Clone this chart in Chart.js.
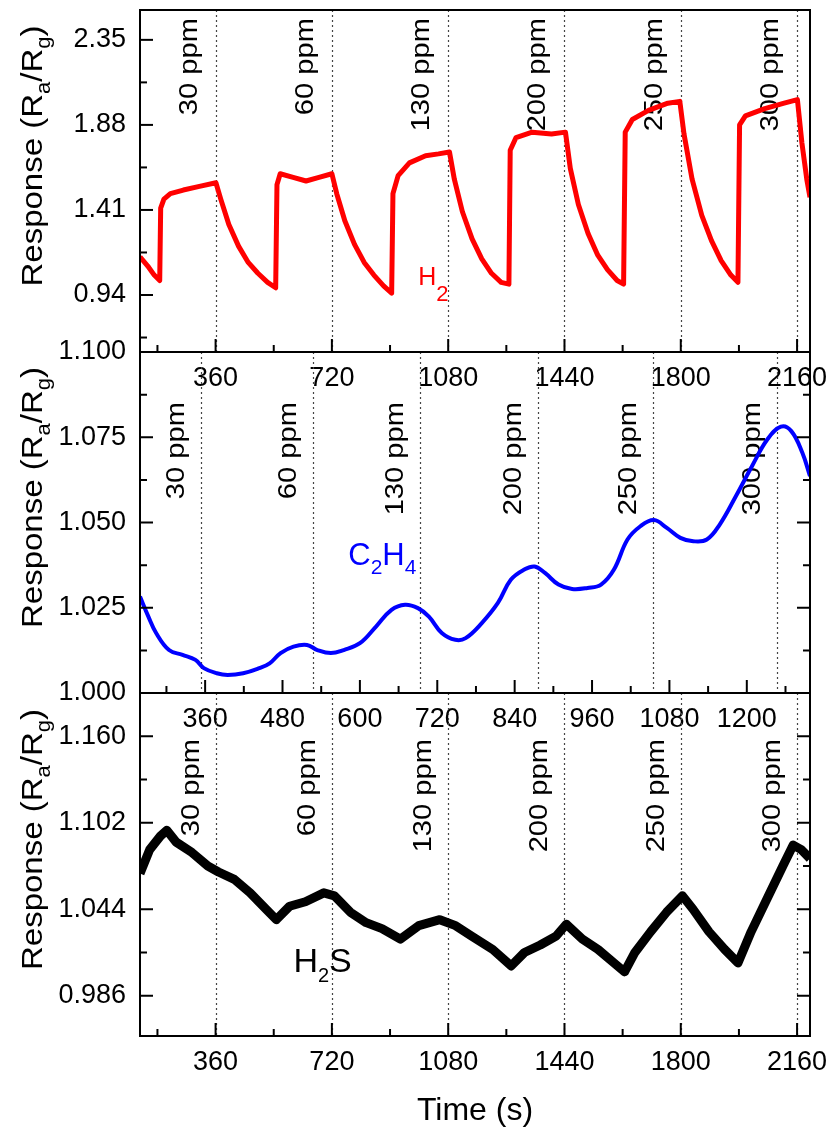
<!DOCTYPE html>
<html>
<head>
<meta charset="utf-8">
<script src="https://cdn.jsdelivr.net/npm/chart.js@4.4.0/dist/chart.umd.min.js"></script>
<style>
  html, body { margin: 0; padding: 0; background: #fff; }
  #wrap { position: relative; width: 829px; height: 1131px; }
  #wrap canvas { position: absolute; left: 0; top: 0; }
</style>
</head>
<body>
<div id="wrap">
  <canvas id="c1" width="829" height="1131"></canvas>
  <canvas id="c2" width="829" height="1131"></canvas>
  <canvas id="c3" width="829" height="1131"></canvas>
</div>
<script>
// concentration steps, same for all three gases
const ppmLabels = ['30 ppm', '60 ppm', '130 ppm', '200 ppm', '250 ppm', '300 ppm'];

// H2 (top panel)
const h2Time = [126, 150, 170, 187, 190, 200, 220, 260, 310, 361,
                376, 401, 431, 461, 491, 521, 546, 550, 560, 600,
                640, 680, 720, 735, 760, 790, 820, 850, 880, 905,
                909, 925, 960, 1010, 1050, 1084, 1099, 1124, 1154, 1184,
                1214, 1244, 1268, 1272, 1290, 1340, 1400, 1443, 1458, 1483,
                1513, 1543, 1573, 1603, 1623, 1628, 1650, 1700, 1760, 1797,
                1810, 1835, 1865, 1895, 1925, 1955, 1977, 1982, 2000, 2060,
                2120, 2161, 2175, 2190, 2200];
const h2Resp = [1.15, 1.10, 1.05, 1.02, 1.42, 1.47, 1.50, 1.52, 1.54, 1.56,
                1.47, 1.33, 1.21, 1.12, 1.06, 1.01, 0.98, 1.55, 1.61, 1.59,
                1.57, 1.59, 1.61, 1.50, 1.35, 1.22, 1.12, 1.05, 0.99, 0.95,
                1.50, 1.60, 1.67, 1.71, 1.72, 1.73, 1.58, 1.40, 1.25, 1.14,
                1.06, 1.01, 1.00, 1.74, 1.81, 1.84, 1.83, 1.84, 1.64, 1.44,
                1.28, 1.16, 1.08, 1.02, 1.00, 1.84, 1.91, 1.96, 2.00, 2.01,
                1.83, 1.58, 1.38, 1.24, 1.13, 1.05, 1.01, 1.88, 1.93, 1.97,
                2.00, 2.02, 1.78, 1.58, 1.48];
const h2Marks = [360, 720, 1080, 1440, 1800, 2160];
const h2YTicks = ['0.94', '1.41', '1.88', '2.35'];

// C2H4 (middle panel)
const c2h4Time = [259, 272, 284, 304, 325, 345, 358, 378, 395, 419,
                  444, 460, 477, 497, 518, 534, 555, 575, 600, 625,
                  649, 670, 690, 707, 727, 748, 764, 789, 814, 834,
                  855, 871, 887, 908, 929, 953, 974, 994, 1015, 1035,
                  1056, 1076, 1097, 1117, 1138, 1158, 1183, 1208, 1232, 1253,
                  1269, 1286, 1298];
const c2h4Resp = [1.0283, 1.0224, 1.0176, 1.0126, 1.0112, 1.0097, 1.0073, 1.0058, 1.0053, 1.0058,
                  1.0073, 1.0087, 1.0117, 1.0136, 1.0141, 1.0126, 1.0117, 1.0126, 1.0146, 1.0195,
                  1.0244, 1.0259, 1.0249, 1.0224, 1.0176, 1.0156, 1.0161, 1.0205, 1.0264, 1.0332,
                  1.0362, 1.0371, 1.0352, 1.0318, 1.0305, 1.0308, 1.0318, 1.0362, 1.0450, 1.0489,
                  1.0507, 1.0484, 1.0455, 1.0445, 1.0450, 1.0494, 1.0577, 1.0665, 1.0744, 1.0781,
                  1.0768, 1.0705, 1.0636];
const c2h4Marks = [354, 527, 693, 876, 1054, 1247];
const c2h4XTicks = ['360', '480', '600', '720', '840', '960', '1080', '1200'];
const c2h4YTicks = ['1.000', '1.025', '1.050', '1.075', '1.100'];

// H2S (bottom panel)
const h2sTime = [126, 156, 189, 209, 238, 287, 336, 369, 418, 467,
                 516, 548, 589, 638, 695, 728, 777, 826, 875, 932,
                 989, 1054, 1103, 1152, 1218, 1275, 1316, 1365, 1414, 1446,
                 1495, 1544, 1593, 1626, 1658, 1707, 1756, 1805, 1838, 1887,
                 1936, 1977, 2018, 2067, 2116, 2148, 2173, 2200];
const h2sResp = [1.068, 1.084, 1.093, 1.097, 1.089, 1.082, 1.073, 1.069, 1.064, 1.055,
                 1.044, 1.037, 1.046, 1.049, 1.055, 1.053, 1.042, 1.035, 1.031, 1.024,
                 1.033, 1.037, 1.033, 1.026, 1.017, 1.006, 1.015, 1.020, 1.026, 1.034,
                 1.024, 1.017, 1.008, 1.002, 1.015, 1.029, 1.042, 1.053, 1.044, 1.029,
                 1.017, 1.008, 1.029, 1.051, 1.073, 1.087, 1.084, 1.078];
const h2sMarks = [360, 720, 1080, 1440, 1800, 2160];
const h2sYTicks = ['0.986', '1.044', '1.102', '1.160'];

// time ticks shared by top and bottom panels
const timeTicks = ['360', '720', '1080', '1440', '1800', '2160'];

const FONT = "'Liberation Sans', Arial, sans-serif";

function drawRich(ctx, parts, x, y, o) {
  ctx.save();
  ctx.translate(x, y);
  if (o.rot) ctx.rotate(o.rot);
  ctx.scale(o.stretch || 1, 1);
  ctx.fillStyle = o.color || '#000';
  ctx.textBaseline = 'alphabetic';
  ctx.textAlign = 'left';
  const fonts = parts.map(p => (p.sub ? o.subSize : o.size) + 'px ' + FONT);
  let w = 0;
  const widths = parts.map((p, i) => {
    ctx.font = fonts[i];
    const m = ctx.measureText(p.t).width;
    w += m;
    return m;
  });
  let cx = o.align === 'center' ? -w / 2 : (o.align === 'right' ? -w : 0);
  parts.forEach((p, i) => {
    ctx.font = fonts[i];
    ctx.fillText(p.t, cx, p.sub ? o.subDrop : 0);
    cx += widths[i];
  });
  ctx.restore();
}

function minorOf(vals, min, max) {
  const step = vals[1] - vals[0];
  const out = [];
  for (let v = vals[0] - step / 2; v <= max + 1e-9; v += step) {
    if (v >= min - 1e-9) out.push(v);
  }
  return out;
}

const yTitle = [{ t: 'Response (R' }, { t: 'a', sub: true }, { t: '/R' }, { t: 'g', sub: true }, { t: ')' }];

const decor = {
  id: 'decor',
  beforeDatasetsDraw(chart, args, o) {
    const { ctx, chartArea: a, scales: { x } } = chart;
    // dotted gas-in lines
    ctx.save();
    ctx.strokeStyle = '#444';
    ctx.lineWidth = 1.2;
    ctx.setLineDash([2, 3]);
    o.marks.forEach(m => {
      const px = Math.round(x.getPixelForValue(m)) + 0.5;
      ctx.beginPath();
      ctx.moveTo(px, a.top);
      ctx.lineTo(px, a.bottom);
      ctx.stroke();
    });
    ctx.restore();
    // concentration labels
    o.marks.forEach((m, i) => {
      const px = x.getPixelForValue(m);
      drawRich(ctx, [{ t: ppmLabels[i] }], px - o.ppmGap, a.top + o.ppmTop,
        { size: 26, rot: -Math.PI / 2, stretch: 1.12, align: 'right', color: '#000' });
    });
  },
  afterDatasetsDraw(chart, args, o) {
    const { ctx, chartArea: a, scales: { x, y } } = chart;
    ctx.save();
    ctx.strokeStyle = '#000';
    ctx.lineWidth = 2;
    ctx.strokeRect(a.left, a.top, a.right - a.left, a.bottom - a.top);
    const xMaj = x.ticks.map(t => t.value);
    const yMaj = y.ticks.map(t => t.value);
    const xMin = minorOf(xMaj, x.min, x.max);
    const yMin = minorOf(yMaj, y.min, y.max);
    const tick = (list, len) => {
      list.forEach(v => {
        const px = x.getPixelForValue(v);
        ctx.beginPath();
        ctx.moveTo(px, a.bottom);
        ctx.lineTo(px, a.bottom - len);
        ctx.stroke();
      });
    };
    const ytick = (list, len) => {
      list.forEach(v => {
        const py = y.getPixelForValue(v);
        ctx.beginPath();
        ctx.moveTo(a.left, py);
        ctx.lineTo(a.left + len, py);
        if (o.rightTicks) {
          ctx.moveTo(a.right, py);
          ctx.lineTo(a.right - len, py);
        }
        ctx.stroke();
      });
    };
    tick(xMaj, 13);
    tick(xMin, 7);
    ytick(yMaj, 13);
    ytick(yMin, 7);
    ctx.restore();

    // gas name
    drawRich(ctx, o.gas, x.getPixelForValue(o.gasAt[0]), y.getPixelForValue(o.gasAt[1]),
      { size: o.gasSize, subSize: o.gasSub, subDrop: o.gasDrop, color: o.gasColor });

    // y title
    drawRich(ctx, yTitle, 42, (a.top + a.bottom) / 2 - 25,
      { size: 30, subSize: 20, subDrop: 8, rot: -Math.PI / 2, stretch: 1.1, align: 'center', color: '#000' });
  }
};

const panels = [
  { id: 'c1', time: h2Time, resp: h2Resp, color: '#ff0000', width: 5, tension: 0,
    xMin: 126, xMax: 2200, yMin: 0.625, yMax: 2.515, top: 10, bottom: 352,
    xTicks: timeTicks, yTicks: h2YTicks, marks: h2Marks, ppmTop: 8, ppmGap: 19,
    rightTicks: false, gas: [{ t: 'H' }, { t: '2', sub: true }], gasAt: [987, 0.995],
    gasSize: 25, gasSub: 22, gasDrop: 16, gasColor: '#ff0000', xTitle: false },
  { id: 'c2', time: c2h4Time, resp: c2h4Resp, color: '#0000ff', width: 4, tension: 0.4,
    xMin: 259, xMax: 1298, yMin: 1.0, yMax: 1.1, top: 352, bottom: 693,
    xTicks: c2h4XTicks, yTicks: c2h4YTicks, marks: c2h4Marks, ppmTop: 50, ppmGap: 17,
    rightTicks: true, gas: [{ t: 'C' }, { t: '2', sub: true }, { t: 'H' }, { t: '4', sub: true }],
    gasAt: [582, 1.0376], gasSize: 31, gasSub: 21, gasDrop: 9, gasColor: '#0000ff', xTitle: false },
  { id: 'c3', time: h2sTime, resp: h2sResp, color: '#000000', width: 9, tension: 0,
    xMin: 126, xMax: 2200, yMin: 0.959, yMax: 1.189, top: 693, bottom: 1036,
    xTicks: timeTicks, yTicks: h2sYTicks, marks: h2sMarks, ppmTop: 46, ppmGap: 17,
    rightTicks: true, gas: [{ t: 'H' }, { t: '2', sub: true }, { t: 'S' }],
    gasAt: [601, 1.0019], gasSize: 34, gasSub: 20, gasDrop: 10, gasColor: '#000000', xTitle: true }
];

panels.forEach(p => {
  new Chart(document.getElementById(p.id), {
    type: 'line',
    data: {
      datasets: [{
        data: p.time.map((t, i) => ({ x: t, y: p.resp[i] })),
        borderColor: p.color,
        borderWidth: p.width,
        borderJoinStyle: 'round',
        pointRadius: 0,
        tension: p.tension,
        fill: false
      }]
    },
    options: {
      responsive: false,
      animation: false,
      events: [],
      layout: { padding: { left: 0, right: 19, top: p.top, bottom: 0 } },
      plugins: {
        legend: { display: false },
        tooltip: { enabled: false },
        decor: p
      },
      scales: {
        x: {
          type: 'linear',
          min: p.xMin,
          max: p.xMax,
          grid: { display: false, drawTicks: false },
          border: { display: false },
          afterBuildTicks: s => { s.ticks = p.xTicks.map(v => ({ value: Number(v) })); },
          afterFit: s => {
            s.height = 1131 - p.bottom;
            s.paddingLeft = 0;
            s.paddingRight = 0;
          },
          ticks: {
            autoSkip: false, maxRotation: 0, padding: 10, color: '#000',
            font: { family: FONT, size: 27 },
            callback: (v, i) => p.xTicks[i]
          },
          title: {
            display: p.xTitle, text: 'Time (s)', color: '#000',
            font: { family: FONT, size: 32 }, padding: { top: 0, bottom: 1 }
          }
        },
        y: {
          type: 'linear',
          min: p.yMin,
          max: p.yMax,
          grid: { display: false, drawTicks: false },
          border: { display: false },
          afterBuildTicks: s => { s.ticks = p.yTicks.map(v => ({ value: Number(v) })); },
          afterFit: s => {
            s.width = 140;
            s.paddingTop = 0;
            s.paddingBottom = 0;
          },
          ticks: {
            padding: 14, color: '#000',
            font: { family: FONT, size: 27 },
            callback: (v, i) => p.yTicks[i]
          }
        }
      }
    },
    plugins: [decor]
  });
});
</script>
</body>
</html>
